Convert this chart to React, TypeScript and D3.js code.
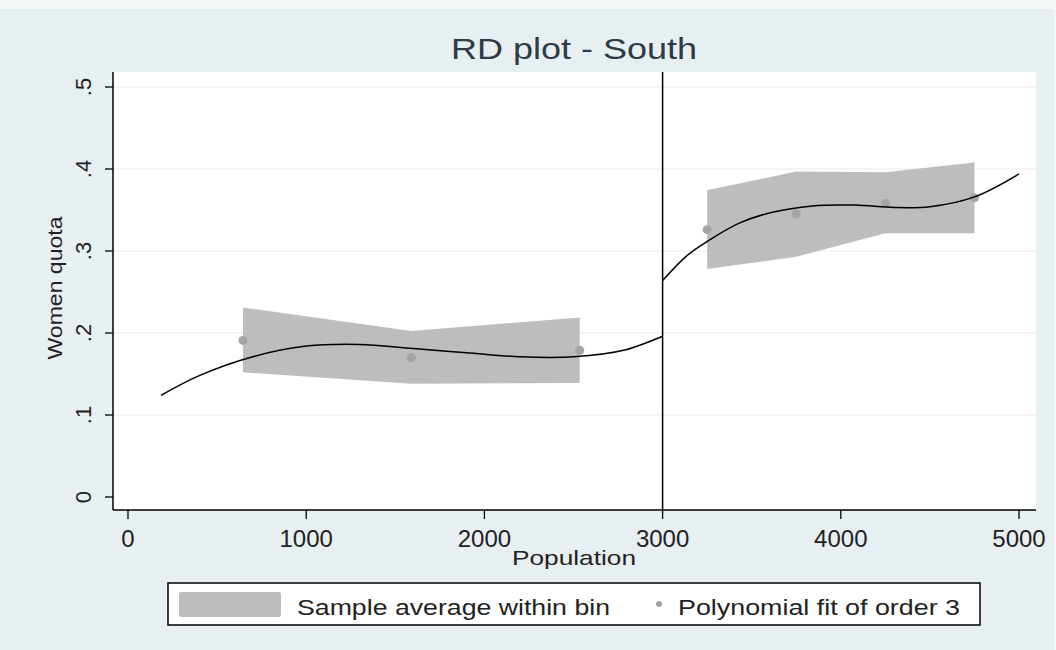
import { scaleLinear, line, area, curveCatmullRom, curveLinear } from "d3";

// bins (left / right of the cutoff)
const leftBinX = [645, 1590, 2535];
const leftMean = [0.191, 0.17, 0.179];
const leftUpper = [0.231, 0.2025, 0.219];
const leftLower = [0.152, 0.138, 0.139];

const rightBinX = [3250, 3750, 4250, 4750];
const rightMean = [0.326, 0.345, 0.358, 0.365];
const rightUpper = [0.374, 0.397, 0.396, 0.408];
const rightLower = [0.278, 0.293, 0.3216, 0.3216];

// fitted curve
const leftFitX = [185, 400, 700, 1000, 1300, 1600, 1900, 2200, 2500, 2800, 3000];
const leftFitY = [0.124, 0.148, 0.171, 0.184, 0.186, 0.181, 0.176, 0.171, 0.171, 0.18, 0.196];
const rightFitX = [3000, 3140, 3260, 3430, 3610, 3840, 4080, 4300, 4500, 4750, 5000];
const rightFitY = [0.264, 0.295, 0.313, 0.334, 0.347, 0.355, 0.356, 0.353, 0.354, 0.366, 0.394];

const xTicks = [0, 1000, 2000, 3000, 4000, 5000];
const yTicks = [0, 0.1, 0.2, 0.3, 0.4, 0.5];
const yTickLabels = ["0", ".1", ".2", ".3", ".4", ".5"];
const cutoff = 3000;

const W = 1056;
const H = 650;
const plotL = 113;
const plotR = 1036;
const plotT = 72;
const plotB = 510;

const BAND = "#bdbdbd";
const DOT = "#a4a4a4";
const BG = "#e8eff2";
const FONT = "'Liberation Sans', Arial, sans-serif";

export default function App() {
  const x = scaleLinear().domain([0, 5000]).range([128, 1019]);
  const y = scaleLinear().domain([0, 0.5]).range([497, 87]);

  const bandPath = (xs: number[], lo: number[], hi: number[]) =>
    area<number>()
      .x((i) => x(xs[i]))
      .y0((i) => y(lo[i]))
      .y1((i) => y(hi[i]))
      .curve(curveLinear)(xs.map((_, i) => i));

  const fitPath = (xs: number[], ys: number[]) =>
    line<number>()
      .x((i) => x(xs[i]))
      .y((i) => y(ys[i]))
      .curve(curveCatmullRom)(xs.map((_, i) => i));

  return (
    <svg width={W} height={H} style={{ display: "block" }}>
      <style>{`body{margin:0}`}</style>
      <rect x={0} y={0} width={W} height={H} fill="#f5f8f9" />
      <rect x={0} y={9} width={1054} height={H - 9} fill={BG} />
      <rect x={plotL} y={plotT} width={plotR - plotL} height={plotB - plotT} fill="#ffffff" />

      {/* title */}
      <text x={574} y={59} fontFamily={FONT} fontSize={29} fill="#2e3a46" textAnchor="middle"
        textLength={246} lengthAdjust="spacingAndGlyphs">
        RD plot - South
      </text>

      {/* grid */}
      {yTicks.slice(1).map((t) => (
        <line key={t} x1={plotL} x2={plotR} y1={y(t)} y2={y(t)} stroke="#ececec" strokeWidth={1.2} />
      ))}

      {/* bands */}
      <path d={bandPath(leftBinX, leftLower, leftUpper) ?? ""} fill={BAND} />
      <path d={bandPath(rightBinX, rightLower, rightUpper) ?? ""} fill={BAND} />

      {/* bin means */}
      {leftBinX.map((v, i) => (
        <circle key={"l" + i} cx={x(v)} cy={y(leftMean[i])} r={4.5} fill={DOT} />
      ))}
      {rightBinX.map((v, i) => (
        <circle key={"r" + i} cx={x(v)} cy={y(rightMean[i])} r={4.5} fill={DOT} />
      ))}

      {/* fit */}
      <path d={fitPath(leftFitX, leftFitY) ?? ""} fill="none" stroke="#000" strokeWidth={1.5} />
      <path d={fitPath(rightFitX, rightFitY) ?? ""} fill="none" stroke="#000" strokeWidth={1.5} />

      {/* cutoff */}
      <line x1={x(cutoff)} x2={x(cutoff)} y1={plotT} y2={plotB} stroke="#000" strokeWidth={1.5} />

      {/* y axis */}
      <line x1={plotL} x2={plotL} y1={plotT} y2={plotB} stroke="#000" strokeWidth={1.5} />
      {yTicks.map((t, i) => (
        <g key={t}>
          <line x1={plotL - 8} x2={plotL} y1={y(t)} y2={y(t)} stroke="#000" strokeWidth={1.3} />
          <text transform={`translate(91,${y(t)}) rotate(-90)`} textAnchor="middle" fontFamily={FONT}
            fontSize={22} fill="#222">
            {yTickLabels[i]}
          </text>
        </g>
      ))}
      <text transform="translate(62,288) rotate(-90)" textAnchor="middle" fontFamily={FONT} fontSize={20}
        fill="#222" textLength={143} lengthAdjust="spacingAndGlyphs">
        Women quota
      </text>

      {/* x axis */}
      <line x1={plotL} x2={plotR} y1={plotB} y2={plotB} stroke="#000" strokeWidth={1.5} />
      {xTicks.map((t) => (
        <g key={t}>
          <line x1={x(t)} x2={x(t)} y1={plotB} y2={plotB + 9} stroke="#000" strokeWidth={1.3} />
          <text x={x(t)} y={547} textAnchor="middle" fontFamily={FONT} fontSize={24} fill="#222">
            {t}
          </text>
        </g>
      ))}
      <text x={574} y={565} textAnchor="middle" fontFamily={FONT} fontSize={21} fill="#222"
        textLength={124} lengthAdjust="spacingAndGlyphs">
        Population
      </text>

      {/* legend */}
      <rect x={168} y={583} width={812} height={42} fill="#fff" stroke="#000" strokeWidth={1.5} />
      <rect x={179} y={592} width={102} height={25} rx={2} fill={BAND} />
      <text x={297} y={615} fontFamily={FONT} fontSize={22} fill="#222" textLength={313}
        lengthAdjust="spacingAndGlyphs">
        Sample average within bin
      </text>
      <circle cx={659} cy={604} r={3} fill={DOT} />
      <text x={678} y={615} fontFamily={FONT} fontSize={22} fill="#222" textLength={282}
        lengthAdjust="spacingAndGlyphs">
        Polynomial fit of order 3
      </text>
    </svg>
  );
}
